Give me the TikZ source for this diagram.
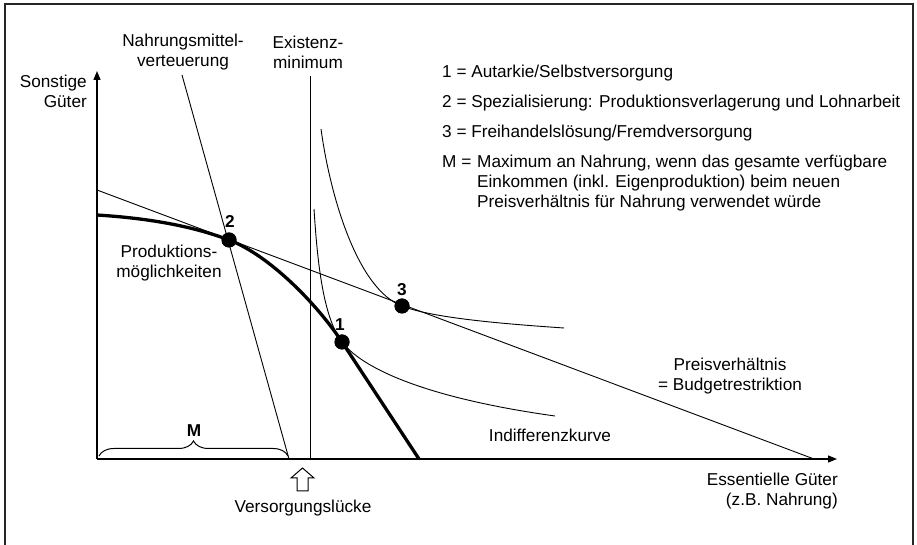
\documentclass[tikz,border=0pt]{standalone}
\usepackage{fontspec}
\setmainfont{Liberation Sans}
\usetikzlibrary{arrows.meta,decorations.pathreplacing}
\begin{document}
\begin{tikzpicture}[x=1pt,y=1pt,
  every node/.style={font=\fontsize{17.2}{19.8}\selectfont, inner sep=0pt},
  thinline/.style={line width=0.9pt},
  axisline/.style={line width=1.3pt, -{Triangle[length=9pt,width=7pt]}},
  thickcurve/.style={line width=3.3pt},
  dotmark/.style={circle, fill=black, minimum size=15pt, inner sep=0pt},
  numlabel/.style={font=\fontsize{17.2}{19.8}\selectfont\bfseries},
  legend/.style={anchor=west, align=left}
]
\useasboundingbox (0,0) rectangle (917,545);
% frame
\draw[line width=1.4pt, black!85] (5,-5) -- (5,541) -- (913,541) -- (913,-5);

% coordinates
\coordinate (O) at (97,86);
\coordinate (ytop) at (97,474);
\coordinate (xtip) at (837,86);
\coordinate (ppfA) at (97,330);
\coordinate (ppfEnd) at (419,86);
\coordinate (budA) at (97,355);
\coordinate (budB) at (814,86);
\coordinate (nahA) at (182,470);
\coordinate (nahB) at (289,86);
\coordinate (exA) at (310,469);
\coordinate (exB) at (310,86);
\coordinate (icA) at (314,336);
\coordinate (icB) at (555,129);
\coordinate (icC) at (321,416);
\coordinate (icD) at (564,217);
\coordinate (brL) at (99,89);
\coordinate (brR) at (288,89);

% points
\node[dotmark] (p2) at (229,305) {};
\node[dotmark] (p1) at (342,203) {};
\node[dotmark] (p3) at (402,239) {};

% axes
\draw[axisline] (O) -- (ytop);
\draw[axisline] (O) -- (xtip);

% lines
\draw[thinline] (budA) -- (budB);
\draw[thinline] (nahA) -- (nahB);
\draw[thinline] (exA) -- (exB);

% indifference curves
\draw[thinline] (icA) .. controls (317,290) and (322,229) .. (p1.center)
  .. controls (366,172) and (440,145) .. (icB);
\draw[thinline] (icC) .. controls (330,350) and (357,256) .. (p3.center)
  .. controls (430,228) and (490,222) .. (icD);

% production possibilities
\draw[thickcurve] (ppfA) .. controls (160,326) and (200,316) .. (p2.center)
  .. controls (269,290) and (317,241) .. (p1.center) -- (ppfEnd);

% redraw dots on top
\fill (p2) circle (7.5pt);
\fill (p1) circle (7.5pt);
\fill (p3) circle (7.5pt);

% brace
\draw[line width=1pt, decorate, decoration={brace, amplitude=15pt, aspect=0.5}] (brL) -- (brR);
\node[numlabel] (Mlab) at (194,114) {M};

% hollow arrow
\draw[line width=1pt] (297,54) -- (297,67) -- (291,67) -- (302.5,77) -- (314,67) -- (308,67) -- (308,54) -- cycle;
\node (vl) at (303,37) {Versorgungslücke};

% labels
\node[align=right, anchor=east] (ylab) at (87,454) {Sonstige\\Güter};
\node[align=center] (nahlab) at (183,493) {Nahrungsmittel-\\verteuerung};
\node[align=center] (exlab) at (308,493) {Existenz-\\minimum};
\node[align=center] (ppflab) at (169,282) {Produktions-\\möglichkeiten};
\node[numlabel] (l2) at (230,323) {2};
\node[numlabel] (l1) at (340,220) {1};
\node[numlabel] (l3) at (402,255) {3};
\node[align=center] (preis) at (730,169) {Preisverhältnis\\= Budgetrestriktion};
\node (indiff) at (550,110) {Indifferenzkurve};
\node[align=right, anchor=east] (xlab) at (838,54) {Essentielle Güter\\(z.B. Nahrung)};

% legend
\node[legend] (leg1) at (442,472) {1 = Autarkie/Selbstversorgung};
\node[legend] (leg2) at (442,442) {2 = Spezialisierung: Produktionsverlagerung und Lohnarbeit};
\node[legend] (leg3) at (442,412) {3 = Freihandelslösung/Fremdversorgung};
\node[legend, anchor=north west] (legM) at (442,390) {M =};
\node[legend, anchor=north west] (legMtxt) at (477,390) {Maximum an Nahrung, wenn das gesamte verfügbare\\Einkommen (inkl. Eigenproduktion) beim neuen\\Preisverhältnis für Nahrung verwendet würde};
\end{tikzpicture}
\end{document}
